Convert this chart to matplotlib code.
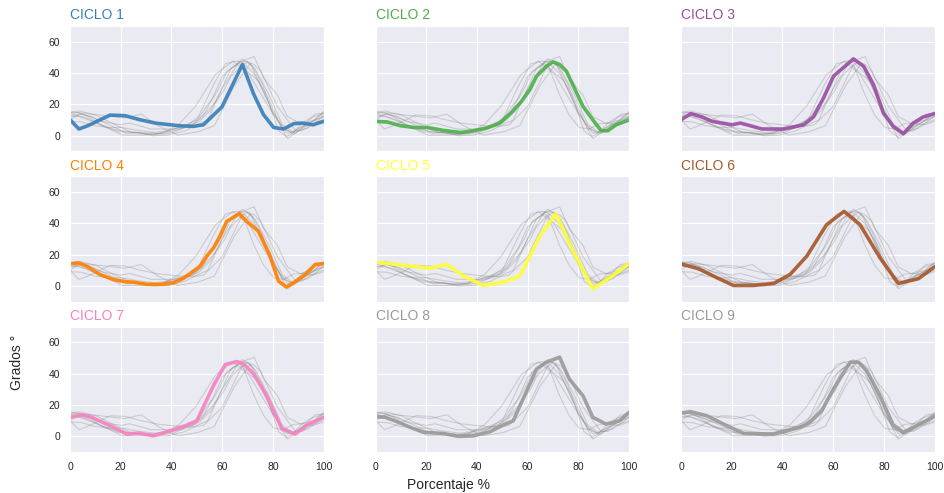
import matplotlib

matplotlib.use("Agg")
import matplotlib.pyplot as plt
import seaborn as sns

sns.set_style("darkgrid")
plt.rcParams["font.family"] = ["Liberation Sans", "DejaVu Sans"]

# cada ciclo tiene su propio muestreo en %
x_c1 = [0, 3.5, 7, 15.8, 21.7, 27.6, 34, 43, 48.7, 52.6, 59.9, 68, 72.4, 76.3, 80.3, 84.2, 88.2, 91.4, 95.9, 100]
y_c1 = [10.2, 4.3, 6.4, 13.2, 12.8, 10.2, 8, 6.4, 6, 7, 18.4, 45.5, 26.7, 13.5, 5.3, 4.3, 7.7, 8.1, 7, 9.2]

x_c2 = [0, 4.6, 9.8, 15, 20.3, 26.8, 33.4, 38.6, 43.8, 49, 53.7, 57.6, 60.9, 63.5, 67.4, 70, 72.6, 75.3, 81.8, 85.7, 89, 91.6, 94.9, 100]
y_c2 = [9.2, 8.8, 6.4, 5.3, 5.3, 3.4, 2.1, 3.2, 4.9, 8.1, 15, 22, 29.5, 38, 44.4, 47.2, 45.5, 41.2, 18.8, 10.2, 3.2, 3.2, 7, 10.2]

x_c3 = [0, 3.9, 8.3, 12.2, 20.1, 23.4, 27.3, 31.9, 40.4, 48.3, 52.2, 56.2, 60.1, 68, 72, 75.9, 79.8, 83.7, 87.7, 91.6, 95.5, 100]
y_c3 = [10.2, 14.1, 12, 9.2, 7, 8.1, 6.4, 4.3, 4.3, 7, 12, 24.1, 38, 49.1, 44.4, 32.7, 14.5, 6, 1.3, 8.1, 12, 14.1]

x_c4 = [0, 3.3, 6.6, 11.8, 17.1, 21.7, 25, 30.3, 36.8, 40.8, 44.7, 51.3, 53.9, 56.6, 59.2, 61.8, 66.7, 70.4, 74.3, 78.9, 82.2, 85.3, 88.2, 92.8, 96.7, 100]
y_c4 = [14.2, 14.8, 12.7, 7.4, 4.2, 2.8, 2.5, 1.1, 1.1, 2.1, 4.9, 12.7, 19.1, 24.4, 31.8, 41.3, 46.2, 40.3, 35, 19.1, 3.2, -0.6, 2.1, 7.4, 13.8, 14.4]

x_c5 = [0, 8.5, 21.6, 28.1, 34.7, 42.5, 50.4, 56.9, 64.8, 71.1, 77.9, 85.7, 92.3, 100]
y_c5 = [15.3, 13.8, 11.4, 13.8, 6.4, 0.4, 2.5, 6.4, 31.8, 46.2, 22.3, -1.7, 5.3, 14.4]

x_c6 = [0, 7, 14.2, 20.7, 28.6, 36.5, 43, 49.6, 57.4, 64.3, 70.6, 78.5, 85.7, 93.6, 100]
y_c6 = [14.2, 11, 5.3, 0.4, 0.4, 1.7, 7.4, 19.1, 39.2, 47.7, 39.2, 18, 1.7, 4.7, 12.3]

x_c7 = [0, 4.6, 8.6, 15.8, 22.4, 27, 32.9, 39.5, 45.4, 50, 56.6, 61.2, 65.8, 68.4, 72.4, 77.6, 83.6, 88.8, 93.4, 100]
y_c7 = [12.2, 13.7, 12.2, 6.8, 1.5, 2.1, 0.4, 3.6, 6.8, 10, 32.5, 45.9, 47.8, 46.3, 39.9, 26, 4.7, 1.5, 7.3, 12.2]

x_c8 = [0, 3.9, 8.5, 13.7, 19, 26.8, 32.7, 38.6, 45.2, 50.4, 54.3, 58.2, 63.5, 67.4, 72.6, 76.4, 81.8, 85.7, 90.9, 96.2, 100]
y_c8 = [12.6, 12.2, 9.4, 5.8, 2.6, 1.9, 0, 0.4, 3, 7.3, 10, 23.9, 43.1, 47.4, 50.6, 36.7, 26, 12.2, 7.9, 10, 15.4]

x_c9 = [0, 3.7, 10.2, 18.1, 24.7, 36.5, 40.4, 47, 50.9, 55.5, 60.1, 66.7, 70, 73.2, 78.5, 83.7, 87.7, 92.9, 100]
y_c9 = [14.9, 15.8, 13.2, 6.8, 1.9, 1.5, 3, 5.8, 9, 16.4, 30.3, 47.4, 47.4, 42.1, 26, 7.3, 2.6, 6.8, 12.8]

nombres = ["CICLO 1", "CICLO 2", "CICLO 3", "CICLO 4", "CICLO 5",
           "CICLO 6", "CICLO 7", "CICLO 8", "CICLO 9"]
colores = ["#377eb8", "#4daf4a", "#984ea3", "#ff7f00", "#ffff33",
           "#a65628", "#f781bf", "#999999", "#999999"]

xs = [x_c1, x_c2, x_c3, x_c4, x_c5, x_c6, x_c7, x_c8, x_c9]
ys = [y_c1, y_c2, y_c3, y_c4, y_c5, y_c6, y_c7, y_c8, y_c9]

fig, axes = plt.subplots(3, 3, figsize=(9.44, 4.93), dpi=100, sharex=True, sharey=True)
fig.subplots_adjust(left=0.0742, right=0.990, top=0.947, bottom=0.083,
                    wspace=0.205, hspace=0.2)

for i, ax in enumerate(axes.flat):
    for j in range(9):
        if j != i:
            ax.plot(xs[j], ys[j], color="grey", linewidth=0.8, alpha=0.3)
    ax.plot(xs[i], ys[i], color=colores[i], linewidth=2.6, alpha=0.9)
    ax.set_title(nombres[i], loc="left", fontsize=10, color=colores[i], pad=5)
    ax.set_xlim(0, 100)
    ax.set_ylim(-10, 70)
    ax.set_xticks([0, 20, 40, 60, 80, 100])
    ax.set_yticks([0, 20, 40, 60])
    ax.tick_params(labelsize=7.5, colors=".15")
    if i % 3 != 0:
        ax.tick_params(labelleft=False)
    if i < 6:
        ax.tick_params(labelbottom=False)

fig.text(0.475, 0.016, "Porcentaje %", ha="center", va="center", fontsize=10, color=".15")
fig.text(0.018, 0.264, "Grados °", ha="center", va="center", rotation=90, fontsize=10, color=".15")

plt.savefig("out.png", dpi=100)
print("Saved graph to out.png")
